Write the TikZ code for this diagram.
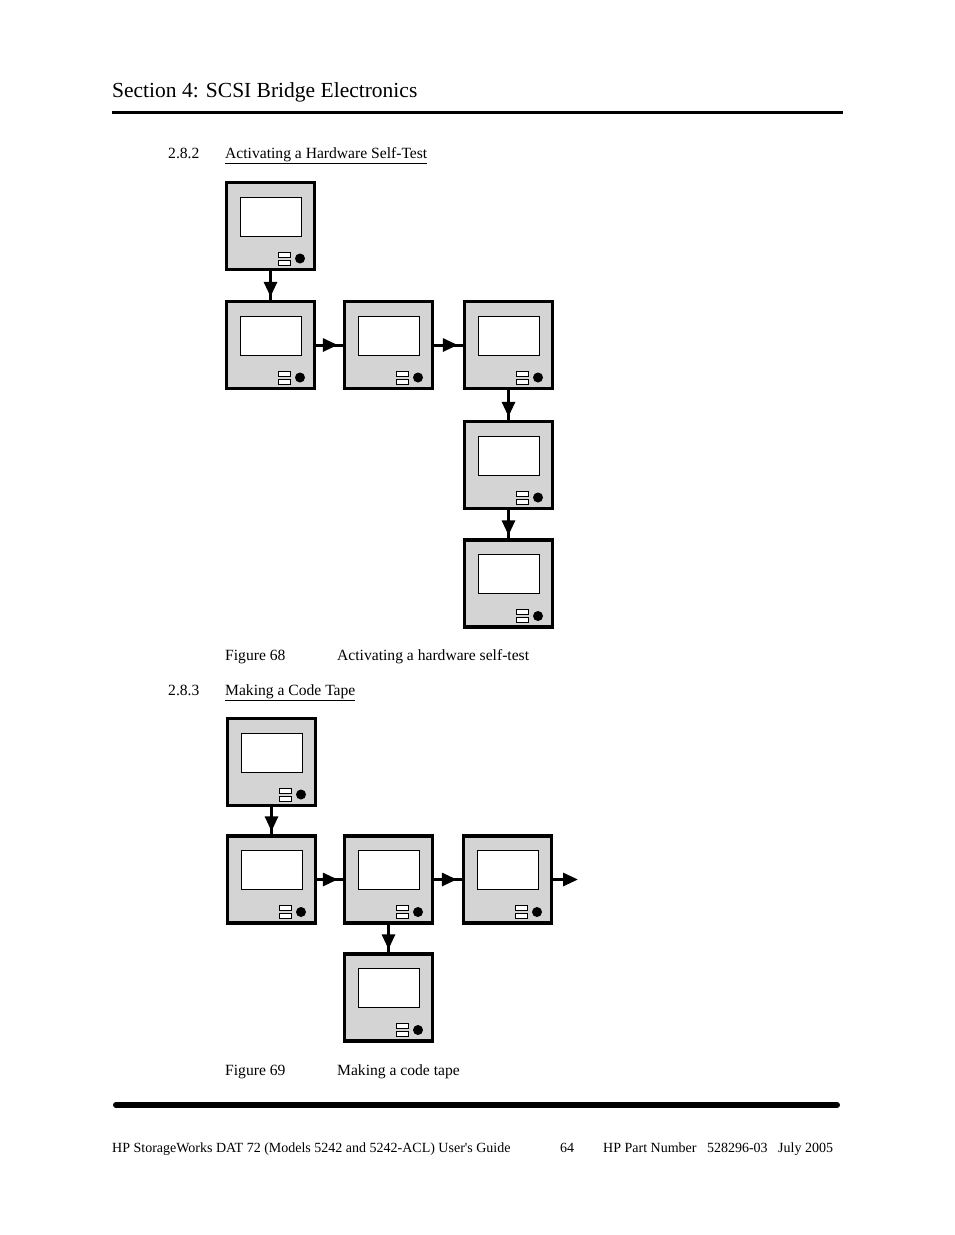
\documentclass[tikz,border=0pt]{standalone}
\usepackage{fontspec}
\setmainfont{Liberation Serif}
\usetikzlibrary{arrows.meta}
\tikzset{
 panelbox/.style={draw=black,fill=black!17,line width=3.4pt,minimum width=88pt,minimum height=87pt,inner sep=0pt},
 conn/.style={line width=3pt,black},
 tip/.style={-{Triangle[length=15pt,width=13pt]},line width=3pt},
 txt/.style={anchor=base west,inner sep=0pt,font=\fontsize{15.6pt}{18pt}\selectfont},
}
\newcommand{\panelat}[3]{%
 \node[panelbox] (#1) at (#2,#3) {};
 \begin{scope}[shift={(#2,#3)}]
  \draw[fill=white,line width=1pt] (-30.5,-29) rectangle (30.5,10);
  \draw[fill=white,line width=1pt] (7.5,26) rectangle (19.5,31);
  \draw[fill=white,line width=1pt] (7.5,34) rectangle (19.5,39);
  \fill (29.5,32.5) circle (5);
 \end{scope}}
\begin{document}
\begin{tikzpicture}[x=1pt,y=-1pt]
\useasboundingbox (0,0) rectangle (954,1235);
\node[txt,font=\fontsize{21.5pt}{24pt}\selectfont] (title) at (112,97) {Section 4: SCSI Bridge Electronics};
\draw[line width=3pt] (112,112) -- (843,112);
\node[txt] (s1n) at (168,158) {2.8.2};
\node[txt] (s1t) at (225,158) {\underline{Activating a Hardware Self-Test}};
\panelat{A}{270.5}{226}
\panelat{B}{270.5}{345}
\panelat{C}{388.5}{345}
\panelat{D}{508.5}{345}
\panelat{E}{508.5}{465}
\panelat{F}{508.5}{583.5}
\draw[conn] (A.south) -- (B.north); \draw[tip,shorten >=3pt] (A.south) -- (B.north);
\draw[conn] (B.east) -- (C.west); \draw[tip,shorten >=5pt] (B.east) -- (C.west);
\draw[conn] (C.east) -- (D.west); \draw[tip,shorten >=5pt] (C.east) -- (D.west);
\draw[conn] (D.south) -- (E.north); \draw[tip,shorten >=3pt] (D.south) -- (E.north);
\draw[conn] (E.south) -- (F.north); \draw[tip,shorten >=3pt] (E.south) -- (F.north);
\node[txt] (f68n) at (225,660) {Figure 68};
\node[txt] (f68t) at (337,660) {Activating a hardware self-test};
\node[txt] (s2n) at (168,695) {2.8.3};
\node[txt] (s2t) at (225,695) {\underline{Making a Code Tape}};
\panelat{G}{271.5}{762}
\panelat{H}{271.5}{879.5}
\panelat{I}{388.5}{879.5}
\panelat{J}{507.5}{879.5}
\panelat{K}{388.5}{997.5}
\coordinate (Jend) at (578,882);
\draw[conn] (G.south) -- (H.north); \draw[tip,shorten >=3pt] (G.south) -- (H.north);
\draw[conn] (H.east) -- (I.west); \draw[tip,shorten >=5pt] (H.east) -- (I.west);
\draw[conn] (I.east) -- (J.west); \draw[tip,shorten >=5pt] (I.east) -- (J.west);
\draw[tip] (J.east) -- (J.east -| Jend);
\draw[conn] (I.south) -- (K.north); \draw[tip,shorten >=3pt] (I.south) -- (K.north);
\node[txt] (f69n) at (225,1075) {Figure 69};
\node[txt] (f69t) at (337,1075) {Making a code tape};
\draw[line width=6pt,line cap=round] (116,1105) -- (837,1105);
\node[txt,font=\fontsize{14pt}{16pt}\selectfont] (foot1) at (112,1152) {HP StorageWorks DAT 72 (Models 5242 and 5242-ACL) User\textquotesingle s Guide};
\node[txt,font=\fontsize{14pt}{16pt}\selectfont] (foot2) at (560,1152) {64};
\node[txt,font=\fontsize{14pt}{16pt}\selectfont] (foot3) at (603,1152) {HP Part Number\ \ \ 528296-03\ \ \ July 2005};
\end{tikzpicture}
\end{document}
